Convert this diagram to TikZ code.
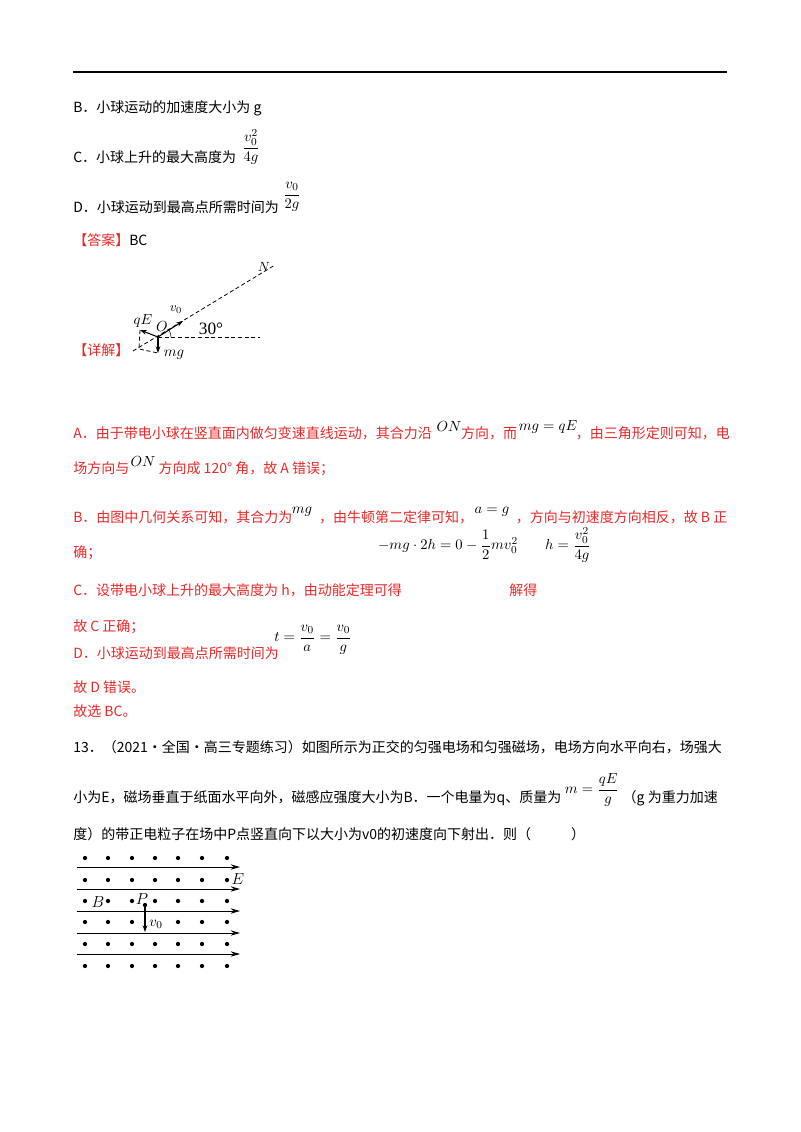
\documentclass[tikz,border=0pt]{standalone}
\usepackage{amsmath}
\usepackage{fontspec}
\setmainfont{Liberation Serif}
\newfontfamily\cjk{Noto Sans CJK SC}
\usetikzlibrary{arrows.meta}
\definecolor{ansred}{RGB}{232,40,40}
\begin{document}
\begin{tikzpicture}[x=0.75pt,y=-0.75pt,
  t/.style={anchor=base west,inner sep=0,font=\cjk\fontsize{10.5}{12}\selectfont},
  r/.style={t,text=ansred},
  m/.style={anchor=center,inner sep=0,font=\fontsize{11}{12}\selectfont},
  dsh/.style={densely dashed,line width=0.6pt},
  ar/.style={-{Stealth[length=5pt,width=3.5pt]},line width=0.8pt},
  dot/.style={circle,fill=black,inner sep=0,minimum size=3.2pt}]
\useasboundingbox (0,0) rectangle (800,1132);
\draw[line width=1.2pt] (73,72) -- (727,72);
\node[t] (b) at (73,112) {B．小球运动的加速度大小为 g};
\node[t] (c) at (73,162) {C．小球上升的最大高度为};
\node[m] (cf) at (251,147) {$\dfrac{v_0^2}{4g}$};
\node[t] (d) at (73,212) {D．小球运动到最高点所需时间为};
\node[m] (df) at (292,197) {$\dfrac{v_0}{2g}$};
\node[r] (ans) at (73,245) {【答案】\textcolor{black}{BC}};
% figure 1
\coordinate (O) at (158,337);
\coordinate (N) at (275,265);
\coordinate (L) at (133,351);
\coordinate (H) at (260,337);
\coordinate (Q) at (140,330);
\coordinate (G) at (158,353);
\coordinate (V) at (183,321);
\coordinate (C1) at (139,349);
\draw[dsh] (L) -- (N);
\draw[dsh] (O) -- (H);
\draw[dsh] (Q) -- (C1) -- (G);
\draw[ar] (O) -- (V);
\draw[ar] (O) -- (Q);
\draw[ar] (O) -- (G);
\draw (O) ++(13,0) arc[start angle=0,end angle=-31,radius=13];
\node[inner sep=0,font=\fontsize{11}{12}\selectfont] (qe) at (143,321) {$qE$};
\node[inner sep=0,font=\fontsize{11}{12}\selectfont] (ol) at (162,327) {$O$};
\node[inner sep=0,font=\fontsize{10}{12}\selectfont] (vl) at (176,310) {$v_0$};
\node[inner sep=0,font=\fontsize{13}{14}\selectfont] (ang) at (211,329) {30°};
\node[inner sep=0,font=\fontsize{10}{12}\selectfont] (nl) at (264,267) {$N$};
\node[inner sep=0,font=\fontsize{11}{12}\selectfont] (mgl) at (174,355) {$mg$};
\node[r] (xj) at (73,355) {【详解】};
% explanation
\node[r] (a1) at (73,438) {A．由于带电小球在竖直面内做匀变速直线运动，其合力沿\hspace{22pt}方向，而\hspace{44pt}，由三角形定则可知，电};
\node[m] at (449,427) {$ON$};
\node[m] at (548,427) {$mg=qE$};
\node[r] (a2) at (73,473) {场方向与\hspace{22pt}方向成 120° 角，故 A 错误；};
\node[m] at (143,462) {$ON$};
\node[r] (b1) at (73,522) {B．由图中几何关系可知，其合力为\hspace{20pt}，由牛顿第二定律可知，\hspace{32pt}，方向与初速度方向相反，故 B 正};
\node[m] at (302,512) {$mg$};
\node[m] at (492,512) {$a=g$};
\node[r] (b2) at (73,557) {确；};
\node[r] (c1) at (73,595) {C．设带电小球上升的最大高度为 h，由动能定理可得};
\node[m] at (448,545) {$-mg\cdot 2h=0-\dfrac{1}{2}mv_0^2$};
\node[r] at (509,595) {解得};
\node[m] at (568,545) {$h=\dfrac{v_0^2}{4g}$};
\node[r] (c2) at (73,631) {故 C 正确；};
\node[r] (d1) at (73,658) {D．小球运动到最高点所需时间为};
\node[m] at (313,640) {$t=\dfrac{v_0}{a}=\dfrac{v_0}{g}$};
\node[r] (d2) at (73,692) {故 D 错误。};
\node[r] (e) at (73,716) {故选 BC。};
% question 13
\node[t] (q1) at (73,752) {13．（2021·全国·高三专题练习）如图所示为正交的匀强电场和匀强磁场，电场方向水平向右，场强大};
\node[t] (q2) at (73,802) {小为E，磁场垂直于纸面水平向外，磁感应强度大小为B．一个电量为q、质量为\hspace{46pt}（g 为重力加速};
\node[m] at (592,790) {$m=\dfrac{qE}{g}$};
\node[t] (q3) at (73,839) {度）的带正电粒子在场中P点竖直向下以大小为v0的初速度向下射出．则（\hspace{30pt}）};
% field figure
\foreach \yy in {858,880,901,922,944,966}{
  \foreach \xx in {85,108,132,155,178,202,227}{
    \node[dot] at (\xx,\yy) {};}}
\foreach \yy in {867,889,911,933,954}{
  \coordinate (s\yy) at (77,\yy);
  \coordinate (e\yy) at (240,\yy);
  \draw[-{Stealth[length=7pt,width=4pt]},line width=0.7pt] (s\yy) -- (e\yy);}
\node[inner sep=0,font=\fontsize{12}{12}\selectfont] (El) at (238,879) {$E$};
\node[inner sep=0,fill=white,font=\fontsize{12}{12}\selectfont] (Bl) at (98,902) {$B$};
\node[inner sep=0,fill=white,font=\fontsize{12}{12}\selectfont] (Pl) at (142,899) {$P$};
\coordinate (P) at (145,905);
\coordinate (P2) at (145,932);
\node[dot] at (P) {};
\draw[ar] (P) -- (P2);
\node[inner sep=0,fill=white,font=\fontsize{11}{12}\selectfont] (v0l) at (156,924) {$v_0$};
\end{tikzpicture}
\end{document}
